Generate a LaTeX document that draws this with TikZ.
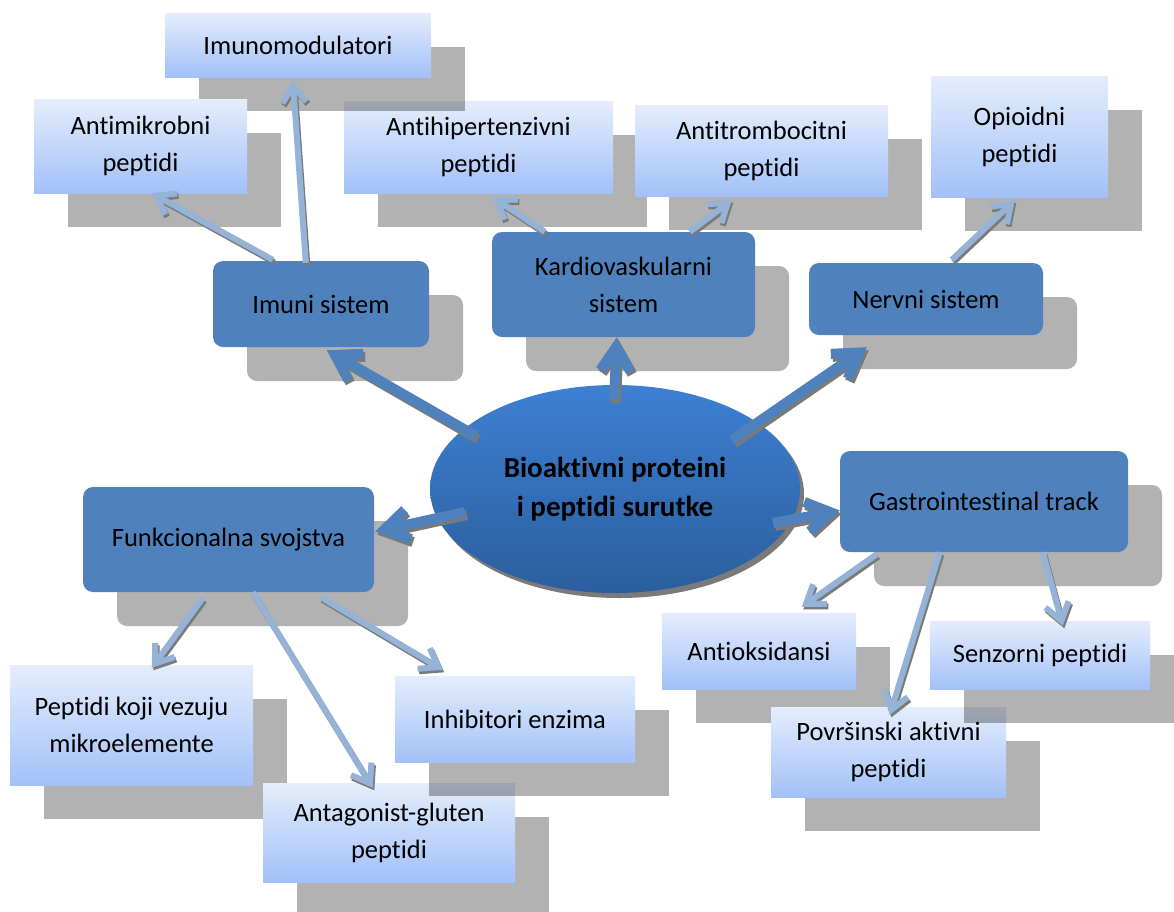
\documentclass[tikz,border=0pt]{standalone}
\usepackage{fontspec}
\setmainfont{Carlito}[Ligatures=NoCommon]
\usetikzlibrary{shapes.geometric,shadows,arrows.meta,calc}
\definecolor{darkbox}{HTML}{4F81BD}
\definecolor{lighttop}{HTML}{E4EDFC}
\definecolor{lightbot}{HTML}{A2C1F8}
\definecolor{thinarrow}{HTML}{95B3D7}
\definecolor{elltop}{HTML}{3D80D2}
\definecolor{ellbot}{HTML}{2C5E9E}
\definecolor{arrshadow}{HTML}{7A7A7A}
\newcommand\linkthick[2]{%
  \draw[thickshadow] #1 -- #2;
  \draw[thickarr] #1 -- #2;}
\newcommand\linkthin[2]{%
  \draw[thinshadow] #1 -- #2;
  \draw[thinarr] #1 -- #2;}
\begin{document}
\begin{tikzpicture}[x=1pt,y=-1pt,
  txt/.style={font=\fontsize{26.5}{37}\selectfont, align=center, text=black, inner sep=0pt},
  boxshadow/.style={general shadow={fill=black, opacity=0.3, shadow xshift=34pt, shadow yshift=-34pt}},
  lbox/.style={txt, boxshadow, rectangle, top color=lighttop, bottom color=lightbot},
  dbox/.style={txt, boxshadow, rectangle, rounded corners=10pt, fill=darkbox},
  thickarr/.style={draw=darkbox, line width=10pt, -{Straight Barb[length=24pt,width=30pt]}},
  thickshadow/.style={thickarr, draw=arrshadow, transform canvas={shift={(2pt,-3pt)}}},
  thinarr/.style={draw=thinarrow, line width=6pt, -{Straight Barb[length=17pt,width=24pt]}},
  thinshadow/.style={thinarr, draw=arrshadow, transform canvas={shift={(1.5pt,-2.5pt)}}},
]
\clip (0,0) rectangle (1174,911);

% upper light boxes
\node[lbox, minimum width=269pt, minimum height=92pt] (ahip) at (478.5,147) {Antihipertenzivni\\peptidi};
\node[lbox, minimum width=266pt, minimum height=64pt] (imod) at (298,45) {Imunomodulatori};
\node[lbox, minimum width=213pt, minimum height=94pt] (amik) at (140.5,146) {Antimikrobni\\peptidi};
\node[lbox, minimum width=253pt, minimum height=91pt] (atr) at (761.5,150.5) {Antitrombocitni\\peptidi};
\node[lbox, minimum width=177pt, minimum height=121pt] (opi) at (1019.5,136.5) {Opioidni\\peptidi};

% dark boxes
\node[dbox, minimum width=216pt, minimum height=86pt] (imuni) at (321,304) {Imuni sistem};
\node[dbox, minimum width=263pt, minimum height=105pt] (kard) at (623.5,284.5) {Kardiovaskularni\\sistem};
\node[dbox, minimum width=234pt, minimum height=72pt] (nerv) at (926,299) {Nervni sistem};
\node[dbox, minimum width=288pt, minimum height=101pt] (gastro) at (984,501.5) {Gastrointestinal track};
\node[dbox, minimum width=291pt, minimum height=105pt] (funk) at (228.5,539.5) {Funkcionalna svojstva};

% lower light boxes
\node[lbox, minimum width=243pt, minimum height=120pt] (pkv) at (131.5,725) {Peptidi koji vezuju\\mikroelemente};
\node[lbox, minimum width=252pt, minimum height=99pt] (ant) at (389,832.5) {Antagonist-gluten\\peptidi};
\node[lbox, minimum width=240pt, minimum height=86pt] (inh) at (515,719) {Inhibitori enzima};
\node[lbox, minimum width=194pt, minimum height=76pt] (aok) at (759,651) {Antioksidansi};
\node[lbox, minimum width=235pt, minimum height=90pt] (pov) at (888.5,752) {Površinski aktivni\\peptidi};
\node[lbox, minimum width=220pt, minimum height=68pt] (sen) at (1040,655) {Senzorni peptidi};

% central ellipse
\node[ellipse, minimum width=370pt, minimum height=208pt, inner sep=0pt,
  top color=elltop, bottom color=ellbot,
  general shadow={fill=arrshadow, shadow xshift=4pt, shadow yshift=-5pt},
  font=\fontsize{29}{39}\selectfont\bfseries, align=center, text=black] (ell) at (615,489)
  {Bioaktivni proteini\\i peptidi surutke};

% thick arrows
\linkthick{($(ell.center)+(-139,-53)$)}{($(imuni.south west)+(114,3)$)}
\linkthick{($(ell.center)+(-1,-89)$)}{($(kard.south west)+(125,0)$)}
\linkthick{($(ell.center)+(117,-49)$)}{($(nerv.south west)+(58,12)$)}
\linkthick{($(ell.center)+(-150,23)$)}{($(funk.east)+(1,-8)$)}
\linkthick{($(ell.center)+(158,34)$)}{($(gastro.west)+(0,9)$)}

% thin arrows
\linkthin{($(imuni.north west)+(60,-1)$)}{($(amik.south west)+(118,0)$)}
\linkthin{($(imuni.north west)+(93,2)$)}{($(imod.south west)+(128,3)$)}
\linkthin{($(kard.north west)+(53,0)$)}{($(ahip.south west)+(149,4)$)}
\linkthin{($(kard.north west)+(198,0)$)}{($(atr.south west)+(97,4)$)}
\linkthin{($(nerv.north west)+(143,-3)$)}{($(opi.south west)+(84,3)$)}
\linkthin{($(funk.south west)+(120,6)$)}{($(pkv.north west)+(142,3)$)}
\linkthin{($(funk.south west)+(170,0)$)}{($(ant.north west)+(110,5)$)}
\linkthin{($(funk.south west)+(238,5)$)}{($(inh.north west)+(48,-6)$)}
\linkthin{($(gastro.south west)+(37,2)$)}{($(aok.north west)+(140,-6)$)}
\linkthin{($(gastro.south west)+(100,0)$)}{($(pov.north west)+(119,8)$)}
\linkthin{($(gastro.south west)+(203,0)$)}{($(sen.north west)+(133,5)$)}
\end{tikzpicture}
\end{document}
